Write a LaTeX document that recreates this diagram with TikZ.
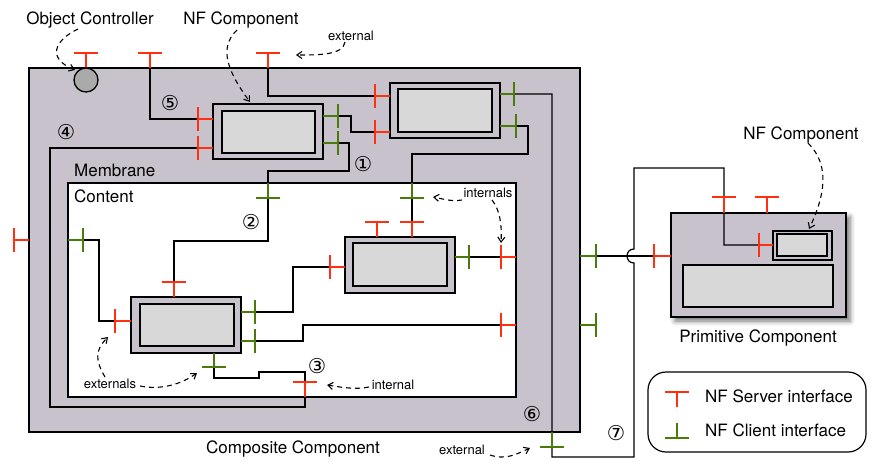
\documentclass[tikz,border=0pt]{standalone}
\usepackage{fontspec}
\setmainfont{TeX Gyre Heros}
\newfontfamily\circfont{DejaVu Sans}
\usetikzlibrary{arrows.meta,shadows.blur}
\definecolor{lav}{RGB}{199,194,204}
\definecolor{lgray}{RGB}{216,216,216}
\definecolor{ifred}{RGB}{255,48,16}
\definecolor{ifgreen}{RGB}{74,122,8}
\definecolor{ocgray}{RGB}{170,170,170}
\tikzset{
  conn/.style={line width=1.2pt, draw=black},
  boxline/.style={line width=1.4pt, draw=black},
  outerbox/.style={boxline, fill=lav},
  innerbox/.style={boxline, fill=lgray},
  ifc/.style={line width=2.6pt},
  dasharrow/.style={line width=1.1pt, dash pattern=on 5pt off 4pt, -{Straight Barb[length=5pt,width=7pt]}},
  big/.style={font=\fontsize{17}{20}\selectfont, inner sep=0pt},
  small/.style={font=\fontsize{13}{15}\selectfont, inner sep=0pt},
  num/.style={font=\circfont\fontsize{20.5}{22}\selectfont, inner sep=0pt},
}
% horizontal bar at (x,y), vertical stem to y=attach
\newcommand\hT[4]{\draw[ifc,#1] ({#2-12},#3) -- ({#2+12},#3); \draw[ifc,#1] (#2,#3) -- (#2,#4);}
% vertical bar at (x,y), horizontal stem to x=attach
\newcommand\vT[4]{\draw[ifc,#1] (#2,{#3-12}) -- (#2,{#3+12}); \draw[ifc,#1] (#2,#3) -- (#4,#3);}
\begin{document}
\begin{tikzpicture}[x=1pt,y=-1pt]
\useasboundingbox (0,0) rectangle (874,461);

% ---- composite and content
\draw[outerbox] (29,68) rectangle (580,432);
\draw[boxline, fill=white] (68,183) rectangle (516,397);

% ---- primitive component
\draw[outerbox, blur shadow={shadow xshift=4pt, shadow yshift=-4pt, shadow blur radius=5pt, shadow opacity=55}] (671,213) rectangle (846,317);
\draw[outerbox] (773,231) rectangle (832,260);
\draw[innerbox] (777,234) rectangle (827,256);
\draw[innerbox] (683,265) rectangle (833,307);

% ---- NF components in membrane
\draw[outerbox] (213,104) rectangle (323,159);
\draw[innerbox] (222,111) rectangle (315,153);
\draw[outerbox] (390,83) rectangle (500,138);
\draw[innerbox] (398,89) rectangle (492,132);
% ---- components in content
\draw[outerbox] (131,297) rectangle (241,353);
\draw[innerbox] (140,304) rectangle (234,346);
\draw[outerbox] (345,237) rectangle (455,293);
\draw[innerbox] (353,243) rectangle (447,286);

% ---- interface coordinates
\coordinate (tA) at (150,53);
\coordinate (tB) at (268,53);
\coordinate (c1l1) at (198,119);
\coordinate (c1l2) at (198,148);
\coordinate (c1r1) at (338,116);
\coordinate (c1r2) at (338,143);
\coordinate (c2l1) at (375,96);
\coordinate (c2l2) at (375,132);
\coordinate (c2r1) at (514,94);
\coordinate (c2r2) at (516,126);
\coordinate (ct1) at (268,198);
\coordinate (ct2) at (412,198);
\coordinate (bt2) at (412,222);
\coordinate (bl) at (330,267);
\coordinate (br) at (469,257);
\coordinate (crt1) at (501,257);
\coordinate (crt2) at (501,325);
\coordinate (at) at (174,282);
\coordinate (al) at (115,321);
\coordinate (ar1) at (255,312);
\coordinate (ar2) at (255,341);
\coordinate (ab) at (214,367);
\coordinate (clf) at (83,240);
\coordinate (cbi) at (305,382);
\coordinate (ge1) at (596,256);
\coordinate (pl) at (654,256);
\coordinate (pn) at (759,245);

% ---- connectors
\draw[conn] (c1l2) -- (50,148) -- (50,407) -- (305,407) -- (cbi);
\draw[conn] (tA) -- (150,119) -- (c1l1);
\draw[conn] (tB) -- (268,96) -- (c2l1);
\draw[conn] (c1r1) -- (351,116) -- (351,132) -- (c2l2);
\draw[conn] (c1r2) -- (349,143) -- (349,171) -- (268,171) -- (ct1) -- (268,241) -- (174,241) -- (at);
\draw[conn] (c2r1) -- (552,94) -- (552,457) -- (634,457) -- (634,263)
   .. controls (624.7,263) and (624.7,249) .. (634,249) -- (634,168) -- (724,168) -- (724,245) -- (pn);
\draw[conn] (c2r2) -- (528,126) -- (528,154) -- (412,154) -- (ct2) -- (bt2);
\draw[conn] (bl) -- (293,267) -- (293,312) -- (ar1);
\draw[conn] (br) -- (crt1);
\draw[conn] (crt2) -- (303,325) -- (303,341) -- (ar2);
\draw[conn] (al) -- (99,321) -- (99,240) -- (clf);
\draw[conn] (ab) -- (214,378) -- (259,378) -- (259,372) -- (305,372) -- (cbi);
\draw[conn] (ge1) -- (pl);

% ---- interfaces: server (red)
\hT{ifred}{86}{53}{68}
\hT{ifred}{150}{53}{68}
\hT{ifred}{268}{53}{68}
\hT{ifred}{174}{282}{297}
\hT{ifred}{377}{222}{237}
\hT{ifred}{412}{222}{237}
\hT{ifred}{305}{382}{397}
\hT{ifred}{724}{197}{213}
\hT{ifred}{767}{197}{213}
\vT{ifred}{198}{119}{213}
\vT{ifred}{198}{148}{213}
\vT{ifred}{375}{96}{390}
\vT{ifred}{375}{132}{390}
\vT{ifred}{330}{267}{345}
\vT{ifred}{115}{321}{131}
\vT{ifred}{501}{257}{516}
\vT{ifred}{501}{325}{516}
\vT{ifred}{14}{240}{29}
\vT{ifred}{654}{256}{671}
\vT{ifred}{759}{245}{773}
% ---- interfaces: client (green)
\vT{ifgreen}{338}{116}{323}
\vT{ifgreen}{338}{143}{323}
\vT{ifgreen}{514}{94}{500}
\vT{ifgreen}{516}{126}{500}
\vT{ifgreen}{469}{257}{455}
\vT{ifgreen}{255}{312}{241}
\vT{ifgreen}{255}{341}{241}
\vT{ifgreen}{83}{240}{68}
\vT{ifgreen}{596}{256}{580}
\vT{ifgreen}{596}{325}{580}
\hT{ifgreen}{268}{198}{183}
\hT{ifgreen}{412}{198}{183}
\hT{ifgreen}{214}{367}{353}
\hT{ifgreen}{552}{447}{432}

% ---- object controller
\draw[line width=1.3pt, fill=ocgray] (86,80) circle (12);
\coordinate (oc) at (75,70);

% ---- labels
\node[big, anchor=base] (lOC) at (90,24) {Object Controller};
\node[big, anchor=base] (lNF1) at (241,24) {NF Component};
\node[small, anchor=base] (lext1) at (351,40) {external};
\node[big, anchor=base west] (lmem) at (74,176) {Membrane};
\node[big, anchor=base west] (lcont) at (74,202) {Content};
\node[small, anchor=base] (lints) at (488,197) {internals};
\node[small, anchor=base] (lint) at (393,389) {internal};
\node[small, anchor=base] (lexts) at (110,388) {externals};
\node[small, anchor=base] (lext2) at (462,454) {external};
\node[big, anchor=base] (lNF2) at (801,139) {NF Component};
\node[big, anchor=base] (lprim) at (758,342) {Primitive Component};
\node[big, anchor=base] (lcomp) at (293,453) {Composite Component};

\node[num] (n1) at (363,164) {①};
\node[num] (n2) at (251,222) {②};
\node[num] (n3) at (317,366) {③};
\node[num] (n4) at (66,132) {④};
\node[num] (n5) at (170,103) {⑤};
\node[num] (n6) at (532,414) {⑥};
\node[num] (n7) at (616,433) {⑦};

% ---- dashed pointer arrows
\draw[dasharrow] (78,29) .. controls (55,40) and (46,58) .. (oc);
\draw[dasharrow] (237,30) .. controls (218,48) and (228,72) .. (250,102);
\draw[dasharrow] (345,42) .. controls (343,55) and (320,55) .. (296,55);
\draw[dasharrow] (462,200) .. controls (450,202) and (440,198) .. (433,197);
\draw[dasharrow] (492,200) .. controls (500,210) and (502,225) .. (501,243);
\draw[dasharrow] (369,387) .. controls (355,390) and (340,387) .. (327,385);
\draw[dasharrow] (105,377) .. controls (95,360) and (95,350) .. (108,337);
\draw[dasharrow] (140,386) .. controls (160,390) and (180,385) .. (197,373);
\draw[dasharrow] (490,455) .. controls (505,460) and (515,455) .. (530,448);
\draw[dasharrow] (808,143) .. controls (825,160) and (830,185) .. (809,229);

% ---- legend
\draw[line width=1.2pt, rounded corners=18pt] (648,372) rectangle (866,452);
\hT{ifred}{677}{392}{407}
\hT{ifgreen}{677}{438}{423}
\node[big, anchor=base west] (lsrv) at (705,402) {NF Server interface};
\node[big, anchor=base west] (lcli) at (705,436) {NF Client interface};
\end{tikzpicture}
\end{document}
